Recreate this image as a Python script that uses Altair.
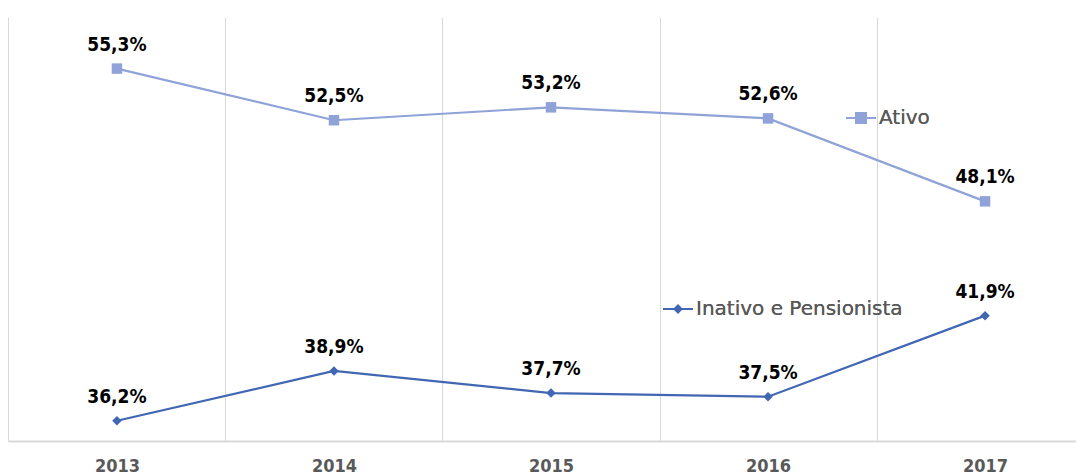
import altair as alt
import pandas as pd

years = [2013, 2014, 2015, 2016, 2017]
ativo = [55.3, 52.5, 53.2, 52.6, 48.1]
inativo = [36.2, 38.9, 37.7, 37.5, 41.9]
series_names = ["Ativo", "Inativo e Pensionista"]
colors = ["#8FA3D8", "#4166B3"]


def fmt(v):
    return f"{v:.1f}".replace(".", ",") + "%"


df_a = pd.DataFrame({"ano": years, "v": ativo, "serie": series_names[0],
                     "lab": [fmt(v) for v in ativo]})
df_i = pd.DataFrame({"ano": years, "v": inativo, "serie": series_names[1],
                     "lab": [fmt(v) for v in inativo]})

tick_vals = []
for y in years:
    tick_vals += [y - 0.5, y]

x = alt.X(
    "ano:Q",
    scale=alt.Scale(domain=[2012.498, 2017.419], nice=False, zero=False),
    axis=alt.Axis(
        values=tick_vals,
        title=None,
        ticks=False,
        labelExpr="datum.value % 1 === 0 ? toString(datum.value) : ''",
        labelFont="DejaVu Sans Condensed",
        labelFontWeight="bold",
        labelFontSize=18,
        labelColor="#595959",
        labelPadding=16,
        labelFlush=False,
        labelOverlap=False,
        grid=True,
        gridColor="#d9d9d9",
        gridWidth=1,
        gridOpacity={"condition": {"test": "datum.value % 1 !== 0", "value": 1}, "value": 0},
        domainColor="#d9d9d9",
        domainWidth=2,
    ),
)
y = alt.Y("v:Q", scale=alt.Scale(domain=[35.1, 58.1], nice=False, zero=False), axis=None)

sq_path = "M-1,0H1M-0.33,-0.33H0.33V0.33H-0.33Z"
dm_path = "M-1,0H1M0,-0.22L0.22,0L0,0.22L-0.22,0Z"


def series(df, name, color, shape, size, path, lx, ly):
    col = alt.Color(
        "serie:N",
        scale=alt.Scale(domain=[name], range=[color]),
        legend=alt.Legend(
            title=None,
            orient="none",
            legendX=lx,
            legendY=ly,
            padding=0,
            symbolType=path,
            symbolSize=900,
            symbolStrokeWidth=2,
            symbolFillColor=color,
            symbolStrokeColor=color,
            labelFont="DejaVu Sans",
            labelFontSize=20,
            labelColor="#595959",
            labelOffset=2,
            labelLimit=500,
        ),
    )
    base = alt.Chart(df).encode(x=x, y=y)
    line = base.mark_line(strokeWidth=2.2).encode(color=col)
    pts = base.mark_point(filled=True, shape=shape, size=size, opacity=1).encode(color=col)
    txt = base.mark_text(dy=-24, font="DejaVu Sans Condensed", fontWeight="bold",
                         fontSize=19, color="#000000").encode(text="lab:N")
    return [line, pts, txt]


la = series(df_a, series_names[0], colors[0], "square", 110, sq_path, 837, 85)
li = series(df_i, series_names[1], colors[1], "diamond", 90, dm_path, 654, 276)

chart = (
    alt.layer(*la, *li)
    .resolve_scale(color="independent")
    .resolve_legend(color="independent")
    .properties(width=1068, height=424, background="white",
                padding={"left": 0, "top": 9, "right": 0, "bottom": 0})
    .configure_view(stroke=None)
)

chart.save("out.html", embed_options={"renderer": "svg", "actions": False})
